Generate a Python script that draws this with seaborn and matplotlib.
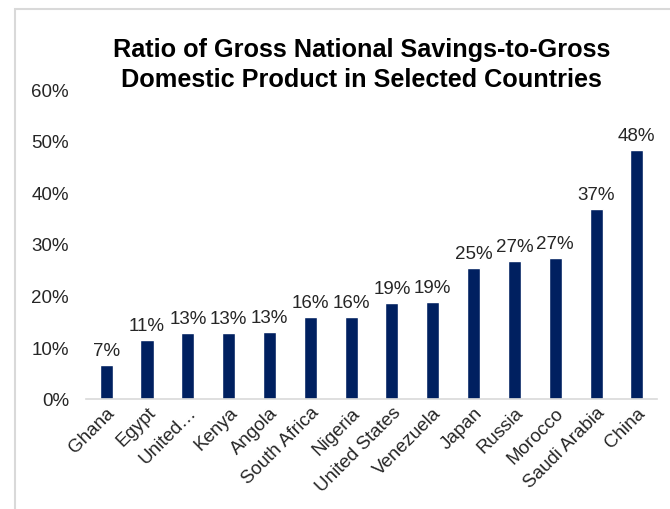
import matplotlib
matplotlib.use("Agg")
import matplotlib.pyplot as plt
import matplotlib.patches as patches
from matplotlib.ticker import PercentFormatter
import pandas as pd
import seaborn as sns

countries = ["Ghana", "Egypt", "United\u2026", "Kenya", "Angola", "South Africa",
             "Nigeria", "United States", "Venezuela", "Japan", "Russia",
             "Morocco", "Saudi Arabia", "China"]
savings_ratio = [6.6, 11.4, 12.7, 12.7, 12.9, 15.8, 15.8, 18.6, 18.7,
                 25.3, 26.6, 27.2, 36.7, 48.2]

sns.set_style("white")
plt.rcParams["font.family"] = ["Liberation Sans Narrow", "Liberation Sans", "DejaVu Sans"]

df = pd.DataFrame({"country": countries, "ratio": savings_ratio})

fig = plt.figure(figsize=(6.7, 5.1), dpi=100)
ax = fig.add_axes([0.128, 0.216, 0.853, 0.6075])

sns.barplot(data=df, x="country", y="ratio", color="#002060", width=0.32,
            saturation=1, ax=ax)

for i, v in enumerate(savings_ratio):
    ax.text(i, v + 1.2, f"{v:.0f}%", ha="center", va="bottom", fontsize=13.5,
            color="#262626")

ax.set_ylim(0, 60)
ax.set_yticks(range(0, 61, 10))
ax.yaxis.set_major_formatter(PercentFormatter(decimals=0))
ax.set_xlabel("")
ax.set_ylabel("")
ax.tick_params(axis="both", length=0, labelsize=13.5, colors="#262626")
ax.tick_params(axis="y", pad=12)
plt.setp(ax.get_xticklabels(), rotation=45, ha="right", rotation_mode="anchor")

for s in ["top", "right", "left"]:
    ax.spines[s].set_visible(False)
ax.spines["bottom"].set_color("#d9d9d9")
ax.spines["bottom"].set_linewidth(1.2)

fig.text(0.54, 0.873, "Ratio of Gross National Savings-to-Gross\nDomestic Product in Selected Countries",
         ha="center", va="center", fontsize=18.2, fontweight="bold",
         linespacing=1.3, color="black")

# light grey outline around the chart area
fig.patches.append(patches.Rectangle((0.022, -0.05), 1.0, 1.03, transform=fig.transFigure,
                                     fill=False, edgecolor="#d9d9d9", linewidth=1.5))

fig.savefig("out.png", dpi=100)
